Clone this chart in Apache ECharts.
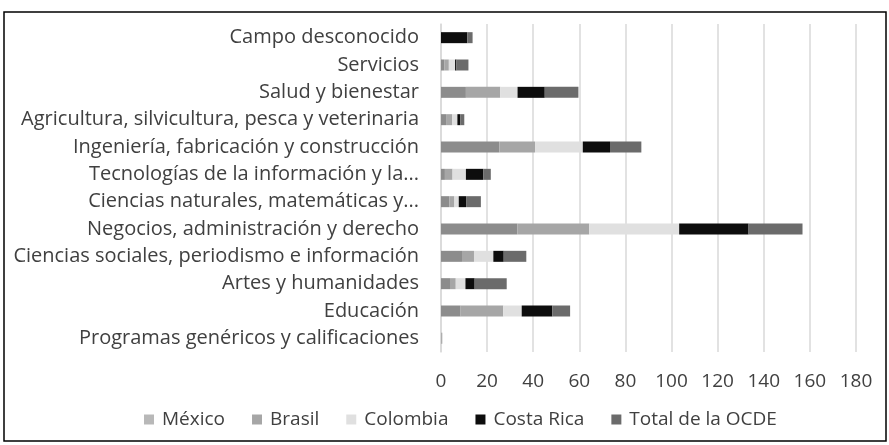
<!DOCTYPE html>
<html>
<head>
<meta charset="utf-8">
<script src="https://cdn.jsdelivr.net/npm/echarts@6/dist/echarts.min.js"></script>
<style>
  html, body { margin: 0; padding: 0; background: #fff; }
  #chart { width: 889px; height: 445px; }
</style>
</head>
<body>
<div id="chart"></div>
<script>
// categorias de abajo hacia arriba
var categories = [
  'Programas genéricos y calificaciones',
  'Educación',
  'Artes y humanidades',
  'Ciencias sociales, periodismo e información',
  'Negocios, administración y derecho',
  'Ciencias naturales, matemáticas y...',
  'Tecnologías de la información y la...',
  'Ingeniería, fabricación y construcción',
  'Agricultura, silvicultura, pesca y veterinaria',
  'Salud y bienestar',
  'Servicios',
  'Campo desconocido'
];
var mexico    = [0.2, 8.5, 3.9, 9.1, 33.1, 3.6, 1.7, 25.3, 2.2, 10.8, 1.4, 0];
var brasil    = [0.3, 18.5, 2.5, 5.2, 31.2, 2.2, 3.3, 15.5, 2.7, 14.9, 2.0, 0];
var colombia  = [0.3, 8.0, 4.2, 8.4, 39.0, 1.9, 5.8, 20.7, 2.2, 7.5, 2.7, 0];
var costaRica = [0, 13.3, 4.0, 4.5, 30.1, 3.2, 7.5, 11.8, 1.3, 11.8, 0.6, 11.4];
var ocde      = [0, 7.7, 13.9, 9.8, 23.4, 6.4, 3.3, 13.6, 1.7, 14.6, 5.2, 2.3];
var xTicks = [0, 20, 40, 60, 80, 100, 120, 140, 160, 180];

var font = '"Open Sans", "Noto Sans", sans-serif';
var textColor = '#404040';

function makeSeries(name, data, color) {
  return {
    name: name,
    type: 'bar',
    stack: 'total',
    barWidth: 11,
    itemStyle: { color: color },
    data: data
  };
}

var myChart = echarts.init(document.getElementById('chart'));
var option = {
  animation: false,
  graphic: [{
    type: 'rect',
    shape: { x: 4, y: 12, width: 882, height: 429 },
    style: { fill: 'none', stroke: '#000', lineWidth: 1.5 }
  }],
  legend: {
    bottom: 11,
    left: 139,
    itemWidth: 10,
    itemHeight: 10,
    itemGap: 27,
    icon: 'rect',
    textStyle: { fontFamily: font, fontSize: 19, color: textColor, padding: [0, 0, 0, 3] },
    data: [
      { name: 'México', itemStyle: { color: '#b8b8b8' } },
      { name: 'Brasil' },
      { name: 'Colombia' },
      { name: 'Costa Rica' },
      { name: 'Total de la OCDE' }
    ]
  },
  grid: { left: 441, right: 33, top: 24, bottom: 93 },
  xAxis: {
    type: 'value',
    min: 0,
    max: 180,
    interval: 20,
    axisLine: { show: false },
    axisTick: { show: false },
    splitLine: { lineStyle: { color: '#d9d9d9', width: 1.5 } },
    axisLabel: {
      margin: 20,
      fontFamily: font, fontSize: 19, color: textColor,
      formatter: function (v) { return xTicks.indexOf(v) >= 0 ? String(v) : ''; }
    }
  },
  yAxis: {
    type: 'category',
    data: categories,
    axisLine: { show: true, lineStyle: { color: '#d9d9d9', width: 1.5 } },
    axisTick: { show: false },
    axisLabel: { margin: 22, fontFamily: font, fontSize: 20, color: textColor }
  },
  series: [
    makeSeries('México', mexico, '#8c8c8c'),
    makeSeries('Brasil', brasil, '#a6a6a6'),
    makeSeries('Colombia', colombia, '#e0e0e0'),
    makeSeries('Costa Rica', costaRica, '#0d0d0d'),
    makeSeries('Total de la OCDE', ocde, '#6b6b6b')
  ]
};
myChart.setOption(option);
</script>
</body>
</html>
